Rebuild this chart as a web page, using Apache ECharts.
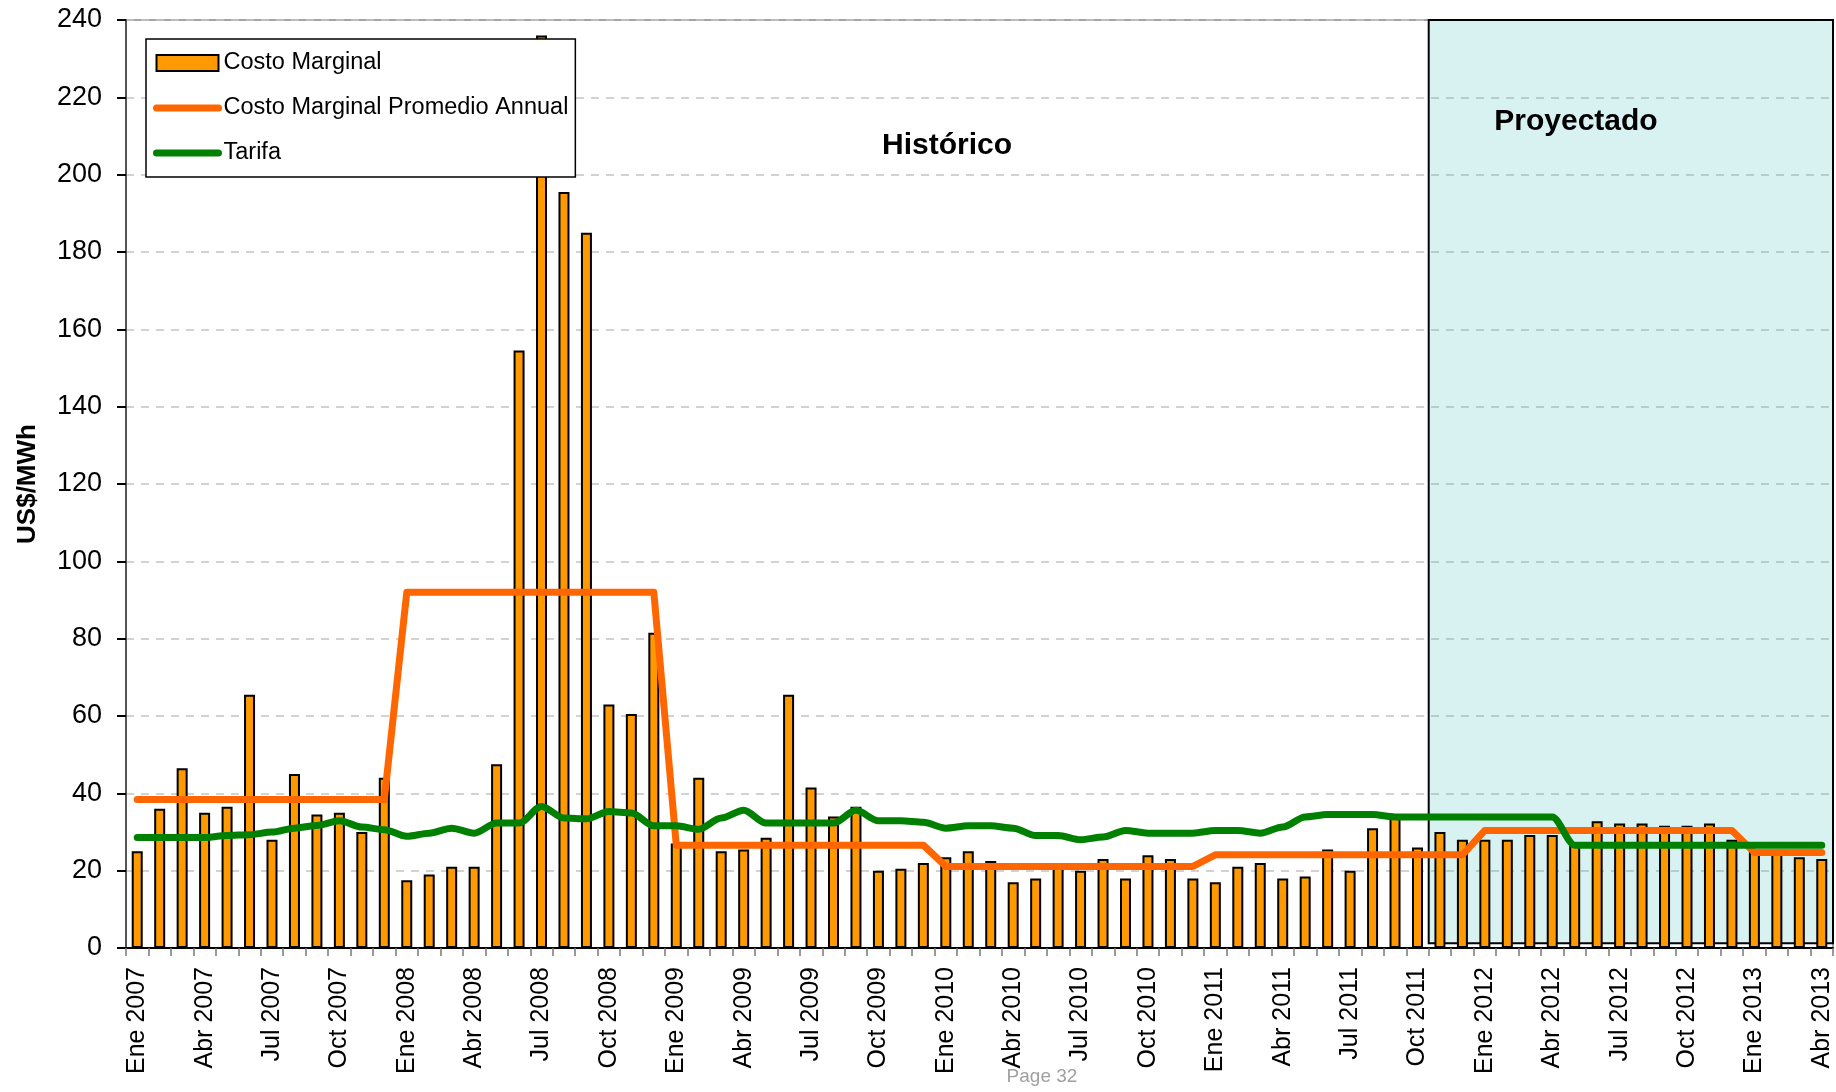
<!DOCTYPE html>
<html>
<head>
<meta charset="utf-8">
<script src="https://cdn.jsdelivr.net/npm/echarts@6/dist/echarts.min.js"></script>
<style>
html,body{margin:0;padding:0;background:#fff;}
#c{width:1836px;height:1092px;}
</style>
</head>
<body>
<div id="c"></div>
<script>
// ---- data ----
const months = ['Ene','Feb','Mar','Abr','May','Jun','Jul','Ago','Sep','Oct','Nov','Dic'];
const years = [2007, 2008, 2009, 2010, 2011, 2012, 2013];
const lastMonthIndex2013 = 3; // Abr 2013

const costoMarginal = [
  25, 36, 46.5, 35, 36.5, 65.5, 28, 45, 34.5, 35, 30, 44,
  17.5, 19, 21, 21, 47.5, 154.5, 236, 195.5, 185, 63, 60.5, 81.5,
  27, 44, 25, 25.5, 28.5, 65.5, 41.5, 34, 36.5, 20, 20.5, 22,
  23.5, 25, 22.5, 17, 18, 21, 20, 23, 18, 24, 23, 18,
  17, 21, 22, 18, 18.5, 25.5, 20, 31, 34.5, 26, 30, 28,
  28, 28, 29.2, 29.2, 27, 32.8, 32.2, 32.2, 31.6, 31.6, 32.2, 28,
  25, 25, 23.5, 23
];

const promedioAnual = [
  38.4, 38.4, 38.4, 38.4, 38.4, 38.4, 38.4, 38.4, 38.4, 38.4, 38.4, 38.4,
  92, 92, 92, 92, 92, 92, 92, 92, 92, 92, 92, 92,
  26.6, 26.6, 26.6, 26.6, 26.6, 26.6, 26.6, 26.6, 26.6, 26.6, 26.6, 26.6,
  21.1, 21.1, 21.1, 21.1, 21.1, 21.1, 21.1, 21.1, 21.1, 21.1, 21.1, 21.1,
  24.1, 24.1, 24.1, 24.1, 24.1, 24.1, 24.1, 24.1, 24.1, 24.1, 24.1, 24.1,
  30.4, 30.4, 30.4, 30.4, 30.4, 30.4, 30.4, 30.4, 30.4, 30.4, 30.4, 30.4,
  24.7, 24.7, 24.7, 24.7
];

const tarifa = [
  28.6, 28.6, 28.6, 28.6, 29.1, 29.3, 30.0, 31.0, 31.7, 32.9, 31.3, 30.6,
  28.9, 29.7, 31.0, 29.7, 32.3, 32.3, 36.6, 33.6, 33.4, 35.3, 34.9, 31.6,
  31.6, 30.7, 33.6, 35.6, 32.3, 32.3, 32.3, 32.3, 35.6, 32.9, 32.9, 32.5,
  31.0, 31.6, 31.6, 31.0, 29.1, 29.1, 28.0, 28.7, 30.4, 29.7, 29.7, 29.7,
  30.4, 30.4, 29.7, 31.3, 33.9, 34.5, 34.5, 34.5, 33.9, 33.9, 33.9, 33.9,
  33.9, 33.9, 33.9, 33.9, 26.6, 26.6, 26.6, 26.6, 26.6, 26.6, 26.6, 26.6,
  26.6, 26.6, 26.6, 26.6
];

// projected period: Nov 2011 (month #58 from Ene 2007) to end of Abr 2013
const projStartMonth = 58;
const projEndMonth = 76;

// ---- categories ----
const categories = [];
years.forEach(y => {
  months.forEach((m, mi) => {
    if (y === 2013 && mi > lastMonthIndex2013) return;
    categories.push(m + ' ' + y);
  });
});

const FONT = "'Liberation Sans', Arial, sans-serif";
const chart = echarts.init(document.getElementById('c'));
chart.setOption({
  animation: false,
  backgroundColor: '#fff',
  textStyle: { fontFamily: FONT, color: '#000' },
  grid: { left: 126, right: 3, top: 20, bottom: 144, show: true, borderColor: '#888', borderWidth: 1.5,
          containLabel: false, outerBoundsMode: 'none' },
  legend: {
    orient: 'vertical', left: 146, top: 39,
    padding: [12, 7, 12, 7], itemGap: 21, itemWidth: 62, itemHeight: 16,
    backgroundColor: '#fff', borderColor: '#000', borderWidth: 1.5,
    textStyle: { fontSize: 23.5, color: '#000', fontFamily: FONT },
    data: [
      { name: 'Costo Marginal', icon: 'rect' },
      { name: 'Costo Marginal Promedio Annual', itemStyle: { opacity: 0, color: 'transparent', borderWidth: 0 },
        lineStyle: { width: 7, color: '#FF6600', cap: 'round' } },
      { name: 'Tarifa', itemStyle: { opacity: 0, color: 'transparent', borderWidth: 0 },
        lineStyle: { width: 7, color: '#008000', cap: 'round' } }
    ]
  },
  xAxis: [{
    type: 'category', data: categories, boundaryGap: true,
    axisLine: { lineStyle: { color: '#000', width: 2 } },
    axisTick: { show: true, interval: 0, length: 8, lineStyle: { color: '#777', width: 1.5 } },
    axisLabel: { interval: 2, rotate: 90, margin: 19, fontSize: 25, color: '#000', fontFamily: FONT },
    splitLine: { show: false }
  }, {
    type: 'value', min: 0, max: categories.length, show: false, position: 'top',
    splitLine: { show: false }
  }],
  yAxis: {
    type: 'value', min: 0, max: 240, interval: 20,
    name: 'US$/MWh', nameLocation: 'middle', nameGap: 85, nameRotate: 90,
    nameTextStyle: { fontWeight: 'bold', fontSize: 26, color: '#000', fontFamily: FONT },
    axisLine: { show: true, lineStyle: { color: '#555', width: 2 } },
    axisTick: { show: true, length: 9, lineStyle: { color: '#000', width: 2 } },
    axisLabel: { margin: 24, fontSize: 27, color: '#000', fontFamily: FONT },
    splitLine: { show: true, lineStyle: { color: '#c4c4c4', width: 1.5, type: [8, 7] } }
  },
  graphic: [
    { type: 'text', x: 947, y: 146, style: { text: 'Histórico', font: "bold 30px 'Liberation Sans', Arial", fill: '#000', textAlign: 'center', textVerticalAlign: 'middle' }, z: 20 },
    { type: 'text', x: 1576, y: 122, style: { text: 'Proyectado', font: "bold 30px 'Liberation Sans', Arial", fill: '#000', textAlign: 'center', textVerticalAlign: 'middle' }, z: 20 },
    { type: 'text', x: 1042, y: 1077, style: { text: 'Page 32', font: "19px 'Liberation Sans', Arial", fill: '#a0a0a0', textAlign: 'center', textVerticalAlign: 'middle' }, z: 20 }
  ],
  series: [
    {
      name: 'Costo Marginal', type: 'bar', data: costoMarginal, barWidth: 11,
      itemStyle: { color: '#FF9900', borderColor: '#000', borderWidth: 2 }, z: 2
    },
    {
      name: 'Costo Marginal Promedio Annual', type: 'line', data: promedioAnual,
      symbol: 'none', lineStyle: { color: '#FF6600', width: 7, cap: 'round', join: 'round' },
      itemStyle: { color: '#FF6600' }, z: 3
    },
    {
      name: 'Tarifa', type: 'line', data: tarifa, symbol: 'none', smooth: 0.3, smoothMonotone: 'x',
      lineStyle: { color: '#008000', width: 7, cap: 'round', join: 'round' },
      itemStyle: { color: '#008000' }, z: 4
    },
    {
      name: 'proj', type: 'line', xAxisIndex: 1, data: [], symbol: 'none', z: 6, silent: true,
      markArea: {
        silent: true,
        itemStyle: { color: 'rgba(60,190,190,0.2)', borderColor: '#000', borderWidth: 2 },
        data: [[{ xAxis: projStartMonth, yAxis: 1.2 }, { xAxis: projEndMonth, yAxis: 240.6 }]]
      }
    }
  ]
});
</script>
</body>
</html>
